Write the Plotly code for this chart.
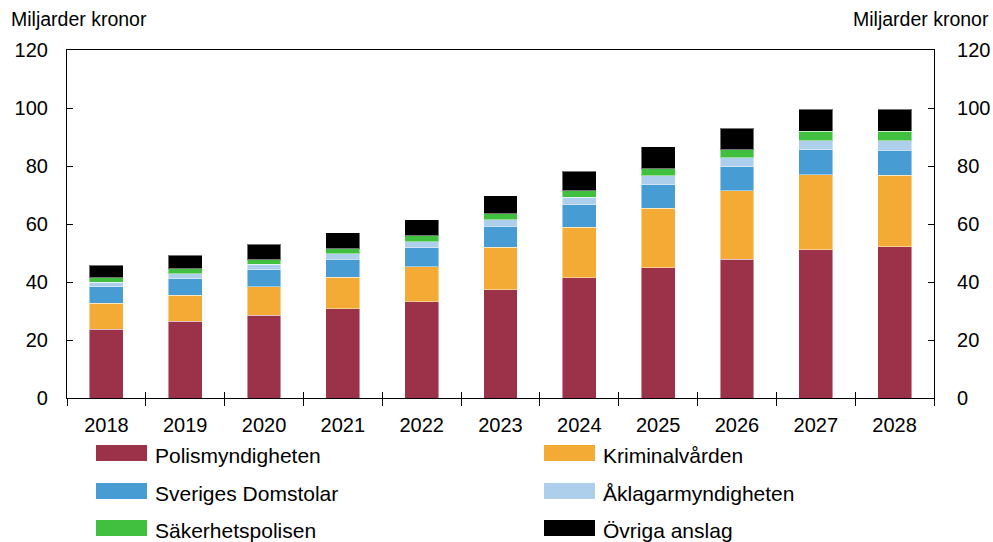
import plotly.graph_objects as go

years = ["2018", "2019", "2020", "2021", "2022", "2023", "2024", "2025", "2026", "2027", "2028"]
series_names = ["Polismyndigheten", "Kriminalvården", "Sveriges Domstolar",
                "Åklagarmyndigheten", "Säkerhetspolisen", "Övriga anslag"]
polis = [23.7, 26.4, 28.6, 30.8, 33.2, 37.3, 41.4, 44.9, 47.8, 51.1, 52.2]
kriminal = [8.9, 9.1, 9.7, 10.8, 12.0, 14.7, 17.5, 20.6, 23.6, 25.9, 24.6]
domstolar = [5.8, 5.6, 6.0, 6.2, 6.6, 7.2, 7.7, 8.1, 8.4, 8.6, 8.7]
aklagar = [1.5, 1.8, 1.8, 2.0, 2.1, 2.3, 2.6, 3.0, 3.0, 3.1, 3.2]
sapo = [1.5, 1.6, 1.6, 1.7, 2.0, 2.1, 2.3, 2.5, 2.8, 3.3, 3.3]
ovriga = [4.4, 4.7, 5.4, 5.4, 5.5, 6.1, 6.7, 7.5, 7.5, 7.5, 7.5]
y_ticks = [0, 20, 40, 60, 80, 100, 120]

series_values = [polis, kriminal, domstolar, aklagar, sapo, ovriga]
colors = ["#9B3249", "#F3AB35", "#479DD3", "#AECFEB", "#41C040", "#000000"]

FONT = "Arial, Liberation Sans, sans-serif"
W, H = 993, 542
L, R, T, B = 67, 59, 50, 144
PW, PH = W - L - R, H - T - B

def px_x(px):
    return (px - L) / PW

def px_y(py):
    return (H - B - py) / PH

fig = go.Figure()
for name, vals, col in zip(series_names, series_values, colors):
    fig.add_trace(go.Bar(
        x=years, y=vals, name=name,
        marker=dict(color=col, line=dict(color="rgba(255,255,255,0.45)", width=1)),
        showlegend=False,
    ))

fig.update_layout(
    template="none",
    barmode="stack",
    bargap=0.57,
    width=W, height=H,
    margin=dict(l=L, r=R, t=T, b=B, autoexpand=False),
    paper_bgcolor="white", plot_bgcolor="white",
    font=dict(family=FONT, size=20, color="black"),
    xaxis=dict(
        type="category", showline=True, linecolor="black", linewidth=1.2,
        mirror=True, ticks="outside", ticklen=7, tickcolor="black",
        tickson="boundaries", tickfont=dict(size=20), showgrid=False,
        range=[-0.5, len(years) - 0.5], ticklabelstandoff=9, automargin=False,
    ),
    xaxis2=dict(
        overlaying="x", range=[-0.5, len(years) - 0.5],
        tickvals=[i + 0.5 for i in range(-1, len(years))],
        showticklabels=False, ticks="inside", ticklen=6, tickcolor="black",
        showgrid=False, zeroline=False, showline=False, automargin=False,
    ),
    yaxis=dict(
        range=[0, 120], tickvals=y_ticks, ticks="inside", ticklen=6,
        tickcolor="black", showline=True, linecolor="black", linewidth=1.2,
        showgrid=False, zeroline=False, tickfont=dict(size=20),
        ticklabelstandoff=14, automargin=False,
    ),
    yaxis2=dict(
        overlaying="y", side="right", range=[0, 120], tickvals=y_ticks,
        ticks="inside", ticklen=6, tickcolor="black", showline=True,
        linecolor="black", linewidth=1.2, showgrid=False, zeroline=False,
        tickfont=dict(size=20), ticklabelstandoff=18, automargin=False,
    ),
)

# invisible trace to activate secondary axes
fig.add_trace(go.Scatter(x=[0], y=[0], xaxis="x2", yaxis="y2", mode="markers",
                         marker=dict(opacity=0), showlegend=False, hoverinfo="skip"))

# axis unit titles
fig.add_annotation(text="Miljarder kronor", xref="paper", yref="paper",
                   x=px_x(9), y=px_y(19), xanchor="left", yanchor="middle",
                   showarrow=False, font=dict(size=19.5))
fig.add_annotation(text="Miljarder kronor", xref="paper", yref="paper",
                   x=px_x(991), y=px_y(19), xanchor="right", yanchor="middle",
                   showarrow=False, font=dict(size=19.5))

# custom legend (2 columns x 3 rows)
col_x = [96, 544]
row_y = [453, 491, 528]
sw_w, sw_h, gap = 51, 16, 6
for i, (name, col) in enumerate(zip(series_names, colors)):
    c, r = i % 2, i // 2
    x0 = col_x[c]
    yc = row_y[r]
    fig.add_shape(type="rect", xref="paper", yref="paper",
                  x0=px_x(x0), x1=px_x(x0 + sw_w),
                  y0=px_y(yc + sw_h / 2), y1=px_y(yc - sw_h / 2),
                  fillcolor=col, line=dict(width=0))
    fig.add_annotation(text=name, xref="paper", yref="paper",
                       x=px_x(x0 + sw_w + gap), y=px_y(yc + 2),
                       xanchor="left", yanchor="middle", showarrow=False,
                       font=dict(size=21))

fig.write_html("out.html")
